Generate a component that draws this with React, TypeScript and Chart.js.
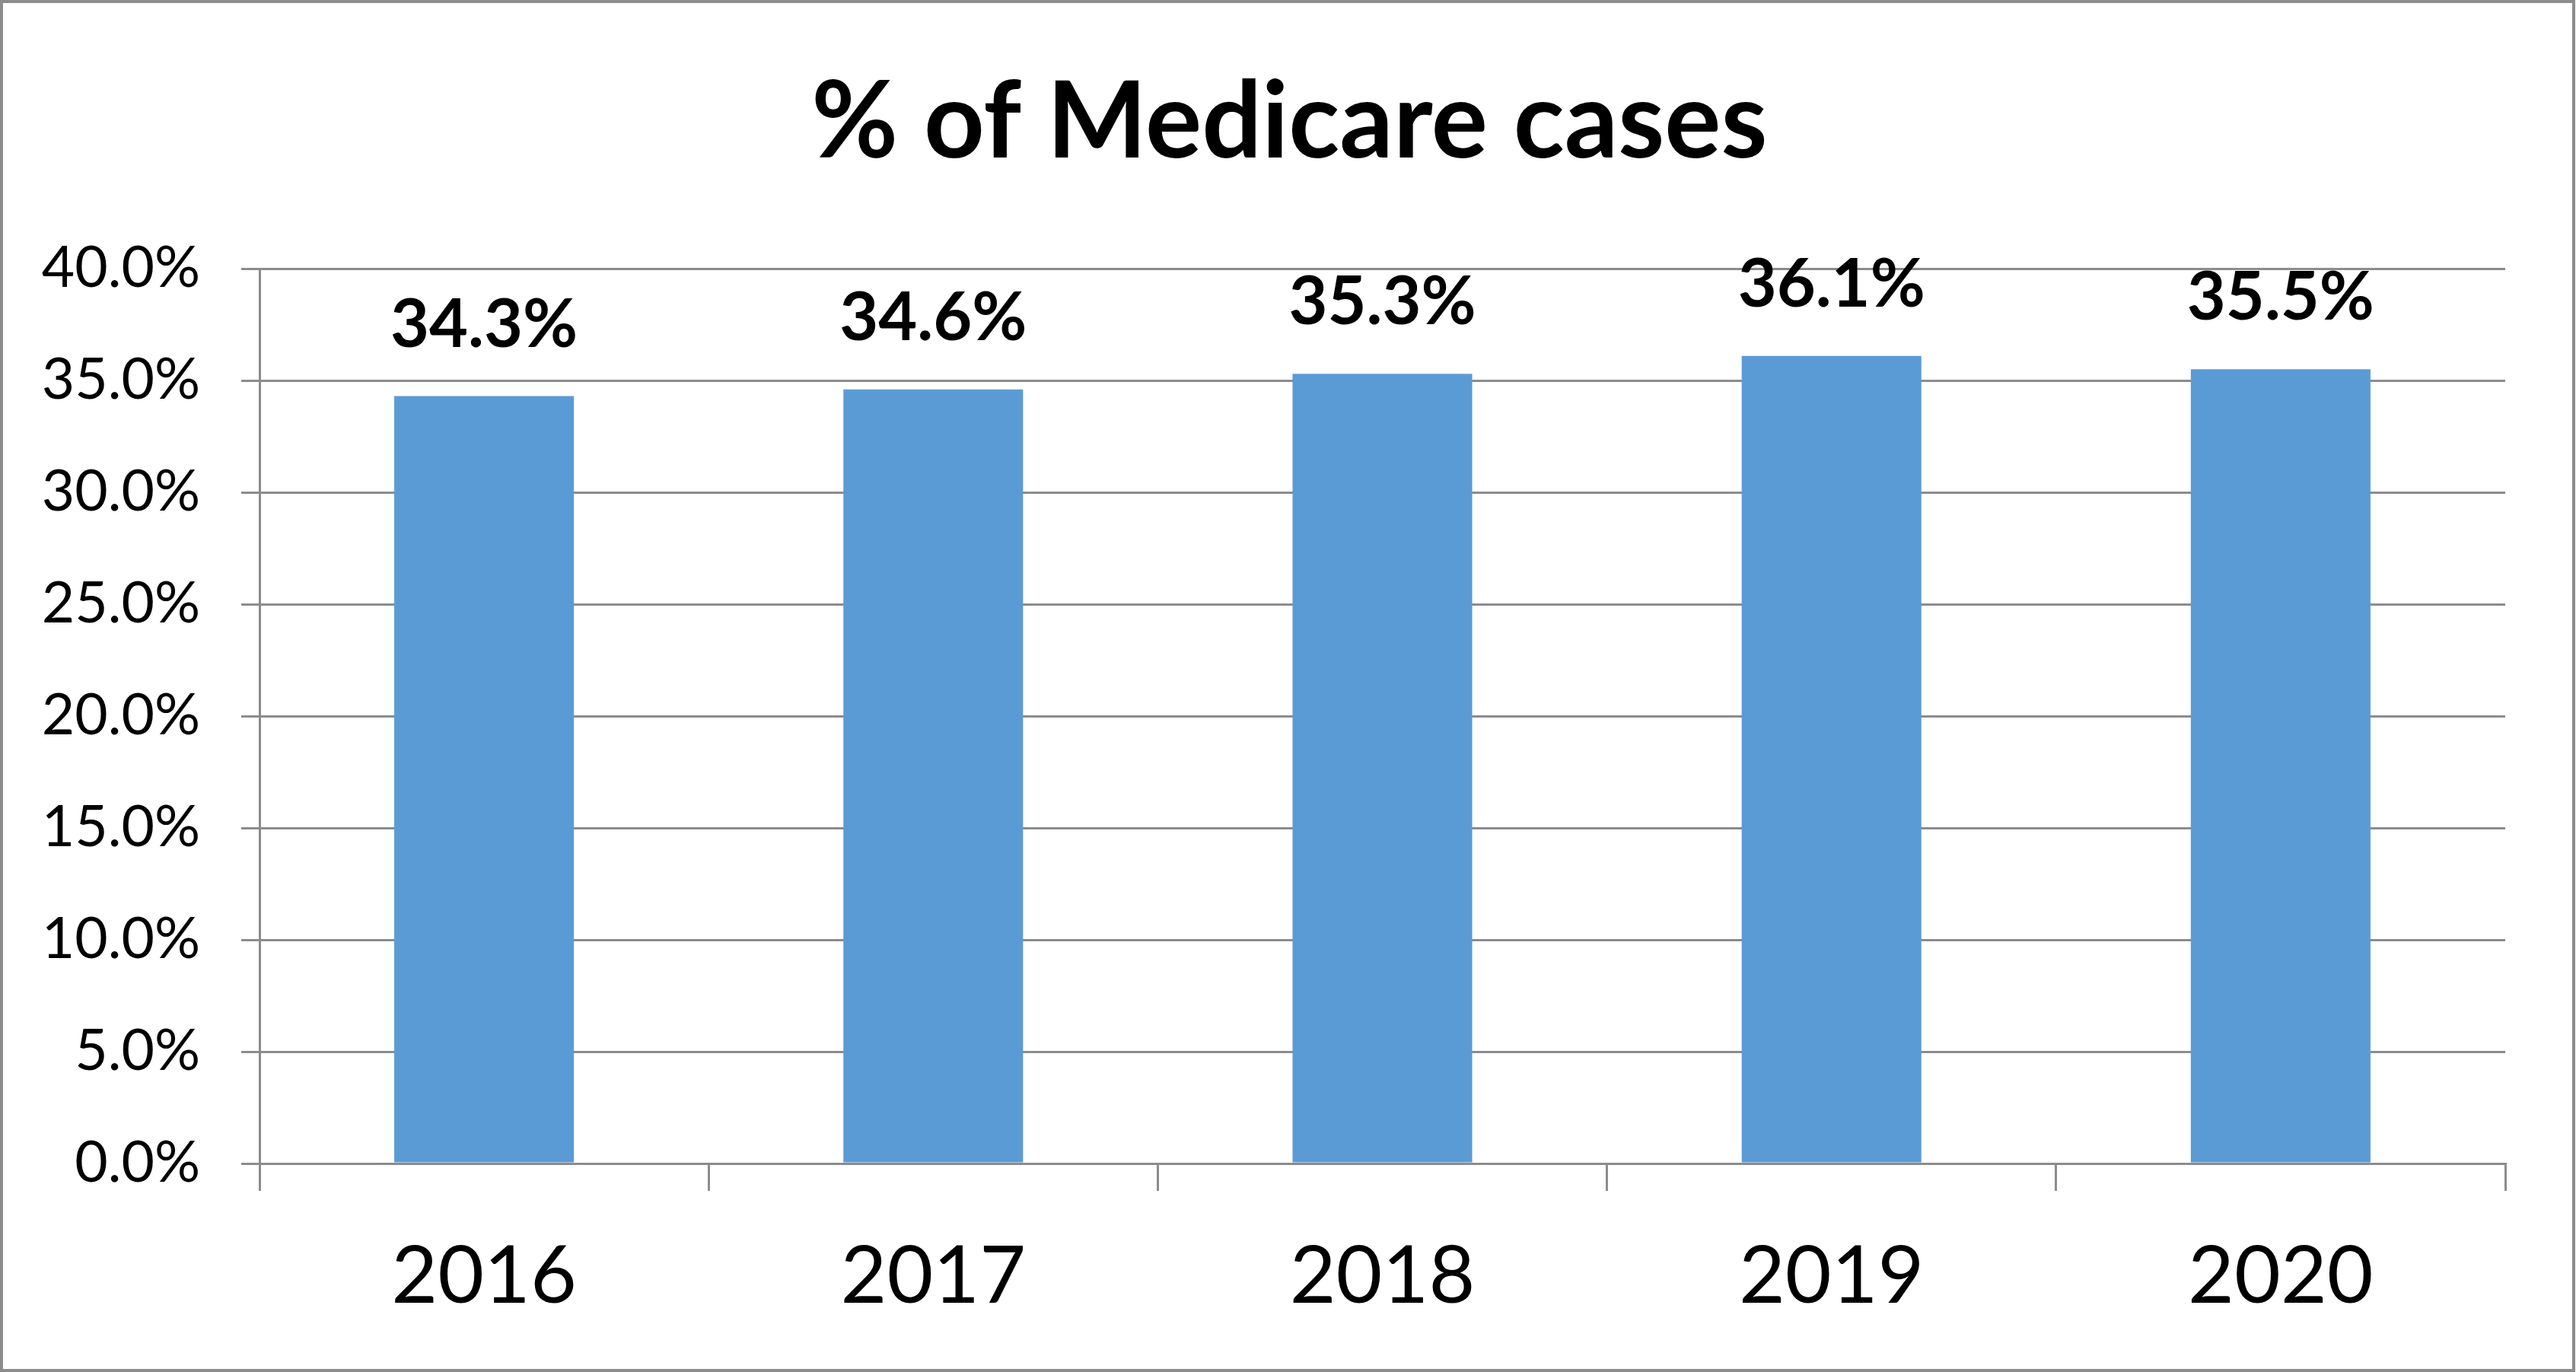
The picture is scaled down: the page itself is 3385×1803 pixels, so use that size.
import { useEffect, useRef } from 'react';
import { Chart, registerables } from 'chart.js';

Chart.register(...registerables);

const chartTitle = '% of Medicare cases';
const categories = ['2016', '2017', '2018', '2019', '2020'];
const medicarePct = [34.3, 34.6, 35.3, 36.1, 35.5];
const yMin = 0;
const yMax = 40;
const yStep = 5;

const FONT = 'Lato';
const GRID = '#8c8c8c';
const W = 3385;
const H = 1803;

const dataLabelPlugin = {
  id: 'dataLabels',
  afterDatasetsDraw(chart: any) {
    const ctx = chart.ctx;
    const meta = chart.getDatasetMeta(0);
    const data = chart.data.datasets[0].data as number[];
    ctx.save();
    ctx.font = `bold 88px ${FONT}`;
    ctx.fillStyle = '#000';
    ctx.textAlign = 'center';
    ctx.textBaseline = 'alphabetic';
    meta.data.forEach((bar: any, i: number) => {
      ctx.fillText(data[i].toFixed(1) + '%', bar.x, bar.y - 65);
    });
    ctx.restore();
  },
};

const framePlugin = {
  id: 'frame',
  beforeDraw(chart: any) {
    const ctx = chart.ctx;
    ctx.save();
    ctx.fillStyle = '#fff';
    ctx.fillRect(0, 0, chart.width, chart.height);
    ctx.restore();
  },
  afterDraw(chart: any) {
    const ctx = chart.ctx;
    ctx.save();
    // title, centred over the whole chart
    ctx.font = `bold 139px ${FONT}`;
    ctx.fillStyle = '#000';
    ctx.textAlign = 'center';
    ctx.textBaseline = 'alphabetic';
    ctx.fillText(chartTitle, chart.width / 2 + 2, 207);
    // outer frame
    ctx.strokeStyle = GRID;
    ctx.lineWidth = 4;
    ctx.strokeRect(2, 2, chart.width - 5, chart.height - 4);
    ctx.restore();
  },
};

export default function App() {
  const ref = useRef<HTMLCanvasElement | null>(null);

  useEffect(() => {
    document.body.style.margin = '0';
    if (!ref.current) return;
    const chart = new Chart(ref.current, {
      type: 'bar',
      data: {
        labels: categories,
        datasets: [
          {
            data: medicarePct,
            backgroundColor: '#5b9bd5',
            borderWidth: 0,
            categoryPercentage: 1,
            barPercentage: 0.4,
          },
        ],
      },
      plugins: [framePlugin, dataLabelPlugin],
      options: {
        responsive: false,
        animation: false,
        devicePixelRatio: 1,
        layout: { padding: { left: 0, right: 93, top: 353, bottom: 0 } },
        plugins: {
          legend: { display: false },
          tooltip: { enabled: false },
          title: { display: false },
        },
        scales: {
          x: {
            afterFit: (scale: any) => {
              scale.height = H - 1529;
            },
            grid: {
              offset: true,
              drawOnChartArea: false,
              drawTicks: true,
              tickLength: 36,
              color: GRID,
              lineWidth: 3,
            },
            border: { display: true, color: GRID, width: 3 },
            ticks: {
              color: '#000',
              font: { family: FONT, size: 105 },
              padding: 50,
              maxRotation: 0,
            },
          },
          y: {
            min: yMin,
            max: yMax,
            afterFit: (scale: any) => {
              scale.width = 341;
            },
            grid: { color: GRID, lineWidth: 3, tickLength: 24 },
            border: { display: true, color: GRID, width: 3 },
            ticks: {
              stepSize: yStep,
              color: '#000',
              font: { family: FONT, size: 75 },
              padding: 54,
              callback: (v: any) => Number(v).toFixed(1) + '%',
            },
          },
        },
      },
    });
    return () => chart.destroy();
  }, []);

  return (
    <div style={{ width: W, height: H, overflow: 'hidden' }}>
      <canvas ref={ref} width={W} height={H} style={{ display: 'block' }} />
    </div>
  );
}
